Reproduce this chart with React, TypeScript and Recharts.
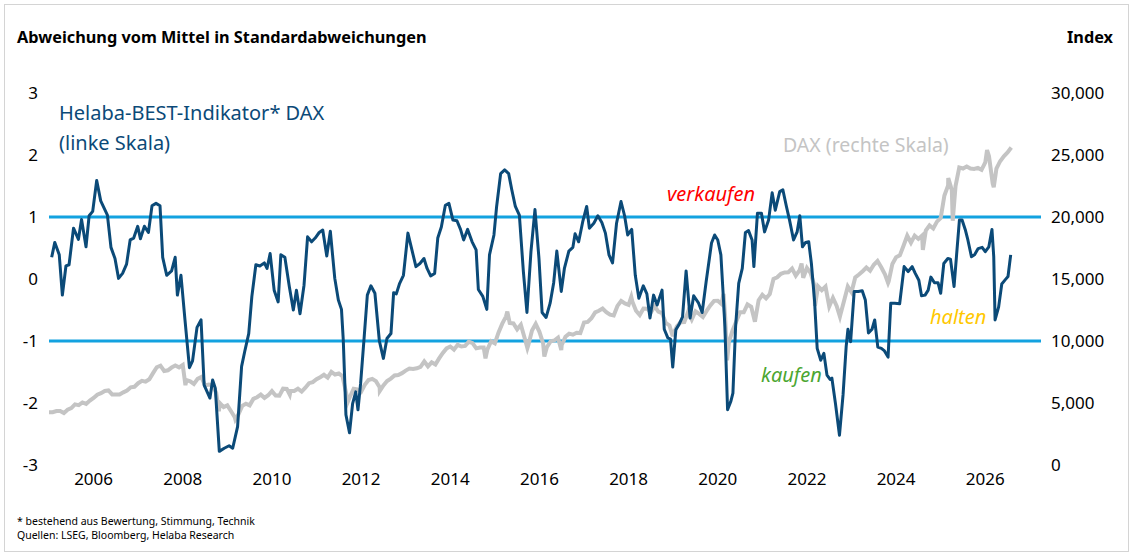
import { Line, LineChart, ReferenceLine, XAxis, YAxis } from 'recharts'

// Helaba-BEST-Indikator DAX, [Jahr, Standardabweichungen]
const bestIndicator: [number, number][] = [
  [2005.06, 0.35], [2005.13, 0.59], [2005.23, 0.39], [2005.3, -0.26], [2005.38, 0.21], [2005.45, 0.23],
  [2005.55, 0.82], [2005.66, 0.64], [2005.73, 0.96], [2005.83, 0.52], [2005.9, 1.02], [2005.98, 1.09],
  [2006.07, 1.59], [2006.16, 1.26], [2006.31, 1.03], [2006.39, 0.51], [2006.48, 0.33], [2006.56, 0.01],
  [2006.65, 0.09], [2006.74, 0.24], [2006.82, 0.63], [2006.9, 0.66], [2006.99, 0.85], [2007.05, 0.65],
  [2007.14, 0.85], [2007.23, 0.75], [2007.31, 1.18], [2007.4, 1.22], [2007.49, 1.18], [2007.55, 0.35],
  [2007.64, 0.06], [2007.75, 0.13], [2007.83, 0.35], [2007.88, -0.26], [2007.96, 0.06], [2008.05, -0.66],
  [2008.15, -1.43], [2008.22, -1.32], [2008.32, -0.78], [2008.41, -0.66], [2008.48, -1.71], [2008.56, -1.84],
  [2008.61, -1.92], [2008.67, -1.63], [2008.73, -1.76], [2008.82, -2.78], [2008.93, -2.73], [2009.04, -2.69],
  [2009.12, -2.73], [2009.23, -2.38], [2009.32, -1.41], [2009.39, -1.17], [2009.48, -0.88], [2009.55, -0.28],
  [2009.64, 0.23], [2009.73, 0.21], [2009.83, 0.26], [2009.89, 0.17], [2009.96, 0.41], [2010.05, -0.18],
  [2010.14, -0.37], [2010.2, 0.39], [2010.29, 0.35], [2010.39, -0.12], [2010.48, -0.5], [2010.55, -0.18],
  [2010.63, -0.56], [2010.72, -0.1], [2010.8, 0.68], [2010.89, 0.6], [2010.97, 0.66], [2011.06, 0.75],
  [2011.14, 0.79], [2011.23, 0.37], [2011.31, 0.77], [2011.41, 0.01], [2011.49, -0.34], [2011.56, -0.49],
  [2011.6, -0.98], [2011.66, -2.19], [2011.74, -2.48], [2011.81, -2.01], [2011.88, -1.82], [2011.93, -2.11],
  [2011.99, -1.68], [2012.07, -0.93], [2012.14, -0.26], [2012.22, -0.11], [2012.31, -0.23], [2012.41, -1.0],
  [2012.5, -1.28], [2012.58, -0.96], [2012.67, -0.88], [2012.73, -0.22], [2012.79, -0.24], [2012.86, -0.08],
  [2012.95, 0.06], [2013.05, 0.74], [2013.14, 0.47], [2013.23, 0.2], [2013.32, 0.25], [2013.41, 0.33],
  [2013.48, 0.17], [2013.56, 0.05], [2013.65, 0.09], [2013.72, 0.66], [2013.8, 0.84], [2013.89, 1.19],
  [2013.97, 1.22], [2014.06, 0.95], [2014.15, 0.94], [2014.23, 0.8], [2014.3, 0.63], [2014.39, 0.8],
  [2014.49, 0.6], [2014.58, 0.47], [2014.63, -0.17], [2014.73, -0.28], [2014.82, -0.49], [2014.88, 0.39],
  [2014.98, 0.71], [2015.04, 1.17], [2015.13, 1.7], [2015.22, 1.76], [2015.31, 1.7], [2015.38, 1.44],
  [2015.46, 1.17], [2015.55, 1.03], [2015.64, 0.12], [2015.72, -0.54], [2015.81, 0.44], [2015.9, 1.12],
  [2015.99, 0.33], [2016.06, -0.54], [2016.15, -0.62], [2016.24, -0.39], [2016.32, -0.06], [2016.39, 0.45],
  [2016.49, -0.2], [2016.56, 0.17], [2016.66, 0.45], [2016.75, 0.51], [2016.8, 0.73], [2016.88, 0.6],
  [2016.97, 0.92], [2017.06, 1.17], [2017.12, 0.82], [2017.22, 0.9], [2017.31, 1.02], [2017.4, 0.91],
  [2017.48, 0.74], [2017.56, 0.39], [2017.64, 0.26], [2017.73, 0.9], [2017.83, 1.25], [2017.91, 1.02],
  [2017.98, 0.71], [2018.07, 0.8], [2018.15, 0.06], [2018.23, -0.31], [2018.33, -0.11], [2018.41, -0.24],
  [2018.48, -0.63], [2018.56, -0.26], [2018.64, -0.42], [2018.69, -0.31], [2018.75, -0.18], [2018.8, -0.81],
  [2018.88, -0.95], [2018.94, -0.97], [2018.99, -1.42], [2019.06, -0.82], [2019.14, -0.72], [2019.21, -0.61],
  [2019.29, 0.13], [2019.38, -0.63], [2019.46, -0.27], [2019.57, -0.39], [2019.65, -0.54], [2019.74, -0.04],
  [2019.86, 0.58], [2019.93, 0.71], [2020.0, 0.63], [2020.07, 0.39], [2020.12, -0.23], [2020.16, -0.77],
  [2020.22, -2.11], [2020.29, -1.98], [2020.34, -1.84], [2020.4, -0.77], [2020.47, -0.07], [2020.55, 0.17],
  [2020.62, 0.75], [2020.69, 0.78], [2020.77, 0.63], [2020.81, 0.2], [2020.89, 1.06], [2020.98, 1.06],
  [2021.05, 0.76], [2021.14, 0.95], [2021.22, 1.39], [2021.29, 1.11], [2021.39, 1.41], [2021.46, 1.44],
  [2021.54, 1.17], [2021.61, 0.95], [2021.7, 0.63], [2021.78, 0.76], [2021.84, 1.02], [2021.9, 0.52],
  [2021.97, 0.59], [2022.04, 0.6], [2022.1, 0.25], [2022.17, -0.34], [2022.23, -1.12], [2022.31, -1.31],
  [2022.38, -1.2], [2022.45, -1.55], [2022.52, -1.62], [2022.56, -1.6], [2022.64, -2.01], [2022.73, -2.52],
  [2022.81, -1.87], [2022.88, -1.09], [2022.92, -0.81], [2022.98, -1.01], [2023.06, -0.2], [2023.15, -0.2],
  [2023.24, -0.19], [2023.31, -0.34], [2023.38, -0.87], [2023.46, -0.81], [2023.52, -0.66], [2023.59, -1.1],
  [2023.67, -1.12], [2023.74, -1.16], [2023.82, -1.26], [2023.88, -0.39], [2023.97, -0.39], [2024.08, -0.4],
  [2024.18, 0.2], [2024.27, 0.12], [2024.36, 0.2], [2024.43, 0.09], [2024.51, -0.02], [2024.57, -0.27],
  [2024.65, -0.26], [2024.72, -0.18], [2024.78, 0.03], [2024.86, -0.06], [2024.94, -0.06], [2025.0, -0.23],
  [2025.07, 0.25], [2025.16, 0.33], [2025.22, 0.32], [2025.3, -0.12], [2025.35, 0.33], [2025.42, 0.95],
  [2025.48, 0.95], [2025.55, 0.8], [2025.61, 0.63], [2025.69, 0.36], [2025.76, 0.39], [2025.84, 0.49],
  [2025.93, 0.51], [2026.0, 0.44], [2026.08, 0.52], [2026.15, 0.8], [2026.19, 0.36], [2026.22, -0.66],
  [2026.3, -0.45], [2026.37, -0.08], [2026.45, -0.01], [2026.51, 0.04], [2026.57, 0.39],
]

// DAX Monatsendstände ab Dez 2004
const daxMonthEnd = [
  4256,
  4254, 4350, 4349, 4185, 4460, 4587, 4887, 4829, 5044, 4929, 5193, 5408,
  5674, 5796, 5970, 6009, 5692, 5683, 5682, 5860, 6004, 6268, 6309, 6597,
  6789, 6716, 6917, 7409, 7883, 8007, 7584, 7638, 7861, 8020, 7871, 8067,
  6852, 6748, 6535, 6949, 7097, 6418, 6480, 6422, 5831, 4988, 4669, 4810,
  4338, 3844, 4085, 4770, 4941, 4809, 5332, 5465, 5675, 5415, 5626, 5957,
  5608, 5598, 6154, 6136, 5965, 5966, 6148, 5925, 6229, 6601, 6688, 6914,
  7077, 7273, 7041, 7514, 7294, 7376, 7159, 5785, 5502, 6141, 6089, 5898,
  6458, 6856, 6947, 6761, 6264, 6416, 6772, 6970, 7216, 7260, 7406, 7612,
  7776, 7741, 7795, 7914, 8349, 7959, 8276, 8104, 8594, 9034, 9405, 9552,
  9306, 9692, 9556, 9603, 9943, 9833, 9407, 9470, 9474, 9327, 9980, 9806,
  10694, 11402, 11966, 11454, 11414, 10945, 11309, 10259, 9660, 10850, 11382, 10743,
  9798, 9495, 9966, 10039, 10263, 9680, 10337, 10593, 10511, 10665, 10640, 11481,
  11535, 11834, 12313, 12438, 12615, 12325, 12118, 12056, 12829, 13230, 13024, 12918,
  13189, 12436, 12097, 12612, 12605, 12306, 12806, 12364, 12247, 11448, 11257, 10559,
  11173, 11516, 11526, 12344, 11727, 12399, 12189, 11939, 12428, 12867, 13236, 13249,
  12982, 11890, 9936, 10862, 11587, 12311, 12313, 12945, 12761, 11556, 13291, 13719,
  13433, 13786, 15008, 15136, 15421, 15531, 15544, 15835, 15261, 15689, 15100, 15885,
  15471, 14461, 14415, 14098, 14388, 12784, 13484, 12835, 12114, 13253, 14397, 13924,
  15128, 15365, 15629, 15922, 15664, 16148, 16447, 15947, 15387, 14810, 16215, 16752,
  16904, 17678, 18492, 17932, 18498, 18235, 18509, 18907, 19325, 19078, 19626, 19909,
  21732, 22551, 22163, 22497, 23997, 23910, 24065, 23902, 23881, 23958, 23800, 24400,
  24900, 22700, 23900, 24500, 24900, 25200, 25600,
]

// Ausschläge innerhalb eines Monats, [Jahr, Punkte]
const daxSwings: [number, number][] = [
  [2008.06, 6440], [2008.81, 4330], [2009.18, 3670], [2010.4, 5670], [2011.7, 5070], [2012.42, 5970],
  [2014.79, 8600], [2015.28, 12370], [2015.73, 9430], [2016.11, 8750], [2016.49, 9270], [2018.06, 13560],
  [2018.99, 10380], [2020.13, 13790], [2020.21, 8440], [2021.88, 16250], [2022.18, 12830], [2022.74, 11970],
  [2023.82, 14690], [2024.6, 17340], [2025.17, 23150], [2025.27, 19700], [2026.04, 25400], [2026.19, 22400],
]

const yearTicks = [2006, 2008, 2010, 2012, 2014, 2016, 2018, 2020, 2022, 2024, 2026]
const leftTicks = [-3, -2, -1, 0, 1, 2, 3]
const rightTicks = [0, 5000, 10000, 15000, 20000, 25000, 30000]
const signalBands = [1, -1]

const bestRows = bestIndicator.map(([t, v]) => ({ t, v }))
const daxRows = [
  ...daxMonthEnd.map((v, i) => ({ t: 2005 + i / 12, v })),
  ...daxSwings.map(([t, v]) => ({ t, v })),
].sort((a, b) => a.t - b.t)

const font = '"Noto Sans", "Open Sans", sans-serif'
const navy = '#0b4a78'
const tickStyle = { fill: '#000', fontSize: 17 }

export default function App() {
  return (
    <div
      style={{
        position: 'absolute',
        left: 0,
        top: 0,
        width: 1133,
        height: 555,
        background: '#fff',
        fontFamily: font,
        color: '#000',
      }}
    >
      <div
        style={{
          position: 'absolute',
          left: 4,
          top: 4,
          width: 1125,
          height: 548,
          border: '1.5px solid #d4d4d4',
          boxSizing: 'border-box',
        }}
      />
      <div style={{ position: 'absolute', left: 0, top: 0 }}>
        <LineChart width={1133} height={555} margin={{ top: 93, right: 0, bottom: 60, left: 0 }}>
          <XAxis
            type="number"
            dataKey="t"
            domain={[2005, 2027.25]}
            ticks={yearTicks}
            allowDataOverflow
            axisLine={false}
            tickLine={false}
            height={30}
            tickMargin={2}
            tick={tickStyle}
          />
          <YAxis
            yAxisId="left"
            domain={[-3, 3]}
            ticks={leftTicks}
            width={49}
            axisLine={false}
            tickLine={false}
            tickMargin={5}
            tick={tickStyle}
          />
          <YAxis
            yAxisId="right"
            orientation="right"
            domain={[0, 30000]}
            ticks={rightTicks}
            width={92}
            axisLine={false}
            tickLine={false}
            tickMargin={4}
            tick={{ ...tickStyle, textAnchor: 'start' }}
            tickFormatter={(v: number) => v.toLocaleString('en-US')}
          />
          {signalBands.map((y) => (
            <ReferenceLine key={y} yAxisId="left" y={y} stroke="#13a2e0" strokeWidth={3} />
          ))}
          <Line
            yAxisId="right"
            data={daxRows}
            dataKey="v"
            type="linear"
            stroke="#c4c4c4"
            strokeWidth={4}
            dot={false}
            activeDot={false}
            isAnimationActive={false}
          />
          <Line
            yAxisId="left"
            data={bestRows}
            dataKey="v"
            type="linear"
            stroke={navy}
            strokeWidth={3}
            strokeLinejoin="round"
            dot={false}
            activeDot={false}
            isAnimationActive={false}
          />
        </LineChart>
      </div>

      <div style={{ position: 'absolute', left: 17, top: 26, fontSize: 16.3, fontWeight: 700, lineHeight: '22px' }}>
        Abweichung vom Mittel in Standardabweichungen
      </div>
      <div style={{ position: 'absolute', right: 20, top: 26, fontSize: 16.3, fontWeight: 700, lineHeight: '22px' }}>
        Index
      </div>

      <div style={{ position: 'absolute', left: 59, top: 98, fontSize: 20, lineHeight: '30px', color: navy }}>
        Helaba-BEST-Indikator* DAX
        <br />
        (linke Skala)
      </div>
      <div style={{ position: 'absolute', left: 783, top: 131, fontSize: 19.5, lineHeight: '28px', color: '#c4c4c4' }}>
        DAX (rechte Skala)
      </div>
      <div
        style={{ position: 'absolute', left: 667, top: 180, fontSize: 20, lineHeight: '28px', fontStyle: 'italic', color: '#ff0000' }}
      >
        verkaufen
      </div>
      <div
        style={{ position: 'absolute', left: 761, top: 361, fontSize: 20, lineHeight: '28px', fontStyle: 'italic', color: '#4ba631' }}
      >
        kaufen
      </div>
      <div
        style={{ position: 'absolute', left: 930, top: 303, fontSize: 20, lineHeight: '28px', fontStyle: 'italic', color: '#ffc800' }}
      >
        halten
      </div>

      <div style={{ position: 'absolute', left: 17, top: 514, fontSize: 10.5, lineHeight: '14px' }}>
        * bestehend aus Bewertung, Stimmung, Technik
        <br />
        Quellen: LSEG, Bloomberg, Helaba Research
      </div>
    </div>
  )
}
